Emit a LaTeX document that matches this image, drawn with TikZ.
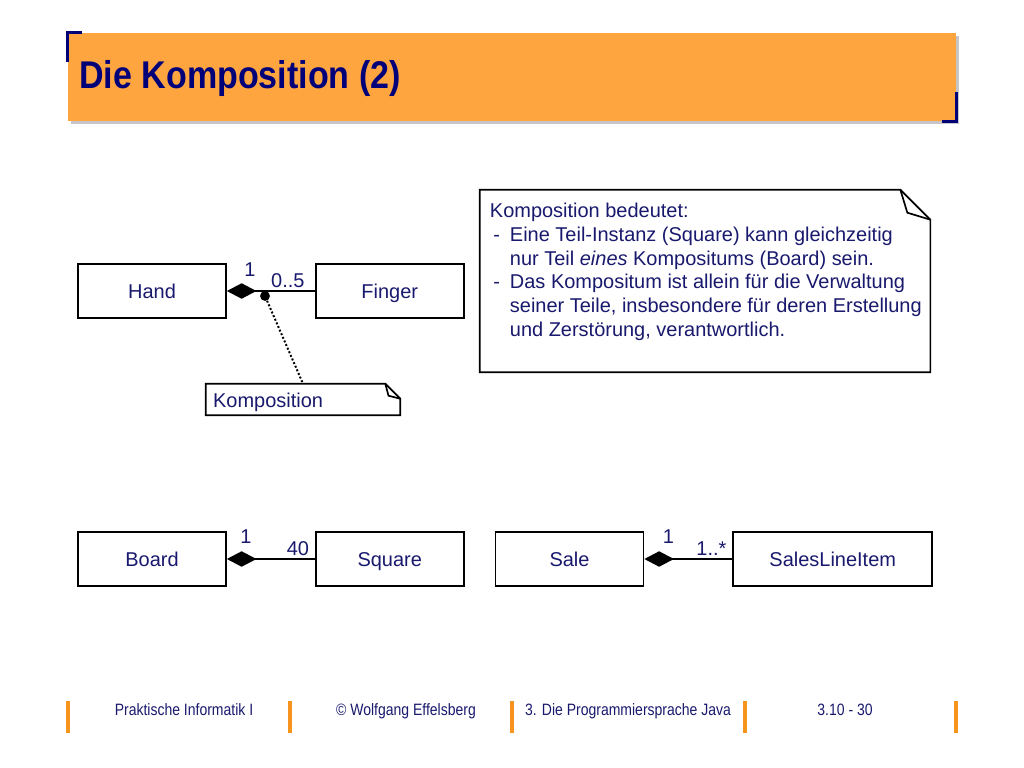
\documentclass[tikz,border=0pt]{standalone}
\usepackage{fontspec}
\setmainfont{Liberation Sans}
\newfontfamily\titlefont[FakeStretch=0.88]{Liberation Sans Bold}
\newfontfamily\footfont[FakeStretch=0.85]{Liberation Sans}
\usepackage{xcolor}
\usetikzlibrary{positioning}
\usetikzlibrary{arrows.meta}
\usetikzlibrary{calc}
\usetikzlibrary{shadows}

\definecolor{barorange}{RGB}{255,165,64}
\definecolor{lineorange}{RGB}{247,148,30}
\definecolor{navy}{RGB}{0,0,120}
\definecolor{inkblue}{RGB}{25,25,110}

\begin{document}
\begin{tikzpicture}[
    x=0.025cm, y=-0.025cm,
    box/.style={draw, line width=1.2pt, fill=white, minimum width=3.7cm, minimum height=1.35cm,
        text=inkblue, text height=2.4ex, text depth=0.4ex, font=\fontsize{14.2}{17}\selectfont},
    mult/.style={text=inkblue, inner sep=0pt, text height=1.6ex, text depth=0.2ex, font=\fontsize{14.2}{17}\selectfont},
    comp/.style={{Diamond[length=21pt, width=11pt]}-, line width=1.2pt},
    notebox/.style={line width=1.2pt, fill=white, line join=miter},
    notetext/.style={text=inkblue, align=left, inner sep=0pt, font=\fontsize{14.2}{17}\selectfont},
    footbar/.style={lineorange, line width=2.8pt},
    foot/.style={text=inkblue, text height=1.6ex, text depth=0.4ex, font=\footfont\fontsize{11.7}{13}\selectfont},
    corner/.style={navy, line width=1.8pt}
]
    \useasboundingbox (0,0) rectangle (1024,768);

    % Title bar
    \node[fill=barorange, minimum width=22.2cm, minimum height=2.2cm, inner sep=0pt,
        drop shadow={shadow xshift=2pt, shadow yshift=-2pt, opacity=0.45}] (title) at (512,77) {};
    \node[anchor=west, text=navy, inner sep=0pt, font=\titlefont\fontsize{27.5}{30}\selectfont]
        (titletext) at (79,79) {Die Komposition (2)};
    \draw[corner] ([yshift=-0.72cm]title.north west) -- (title.north west) -- ([xshift=0.35cm]title.north west);
    \draw[corner] ([yshift=0.72cm]title.south east) -- (title.south east) -- ([xshift=-0.35cm]title.south east);

    % Hand / Finger
    \node[box] (Hand) at (152,291) {Hand};
    \node[box, right=2.2cm of Hand] (Finger) {Finger};
    \draw[comp] (Hand) -- (Finger);
    \node[mult] (HandOne) at ([shift={(0.575cm,0.5cm)}]Hand.east) {1};
    \node[mult] (FingerMult) at ([shift={(-0.675cm,0.22cm)}]Finger.west) {0..5};

    % Note "Komposition"
    \node[circle, fill, inner sep=0pt, minimum size=7pt] (kdot) at (265,296) {};
    \node[minimum width=4.85cm, minimum height=0.775cm, inner sep=0pt] (knote) at (303,399.5) {};
    \draw[notebox] (knote.north west) -- ([xshift=-0.375cm]knote.north east)
        -- ([yshift=-0.375cm]knote.north east) -- (knote.south east) -- (knote.south west) -- cycle;
    \draw[notebox, fill=none] ([xshift=-0.375cm]knote.north east) -- ++(0.08cm,-0.3cm)
        -- ([yshift=-0.375cm]knote.north east);
    \node[notetext, anchor=west] (knotetext) at ([shift={(0.18cm,-0.07cm)}]knote.west) {Komposition};
    \draw[line width=1.4pt, dash pattern=on 1.4pt off 1.4pt] (kdot) -- (knote.north);

    % Big note
    \node[minimum width=11.25cm, minimum height=4.55cm, inner sep=0pt] (bignote) at (705,281) {};
    \draw[notebox] (bignote.north west) -- ([xshift=-0.75cm]bignote.north east)
        -- ([yshift=-0.75cm]bignote.north east) -- (bignote.south east) -- (bignote.south west) -- cycle;
    \draw[notebox, fill=none] ([xshift=-0.75cm]bignote.north east) -- ++(0.175cm,-0.575cm)
        -- ([yshift=-0.75cm]bignote.north east);
    \node[notetext, anchor=north west] (bignotetext) at ([shift={(0.25cm,-0.32cm)}]bignote.north west) {%
        Komposition bedeutet:\\
        \makebox[0.5cm][l]{\,-}Eine Teil-Instanz (Square) kann gleichzeitig\\
        \hspace*{0.5cm}nur Teil \emph{eines} Kompositums (Board) sein.\\
        \makebox[0.5cm][l]{\,-}Das Kompositum ist allein f\"ur die Verwaltung\\
        \hspace*{0.5cm}seiner Teile, insbesondere f\"ur deren Erstellung\\
        \hspace*{0.5cm}und Zerst\"orung, verantwortlich.};

    % Board / Square
    \node[box] (Board) at (152,559) {Board};
    \node[box, right=2.2cm of Board] (Square) {Square};
    \draw[comp] (Board) -- (Square);
    \node[mult] (BoardOne) at ([shift={(0.475cm,0.52cm)}]Board.east) {1};
    \node[mult] (SquareMult) at ([shift={(-0.425cm,0.22cm)}]Square.west) {40};

    % Sale / SalesLineItem
    \node[box] (Sale) at (569.5,559) {Sale};
    \node[box, minimum width=4.975cm, right=2.2cm of Sale] (SalesLineItem) {SalesLineItem};
    \draw[comp] (Sale) -- (SalesLineItem);
    \node[mult] (SaleOne) at ([shift={(0.6cm,0.52cm)}]Sale.east) {1};
    \node[mult] (SalesMult) at ([shift={(-0.525cm,0.22cm)}]SalesLineItem.west) {1..*};

    % Footer
    \foreach \x in {68,290,512,745,956}
        \draw[footbar] (\x,701) -- (\x,733);
    \node[foot] (f1) at (184,711) {Praktische Informatik I};
    \node[foot] (f2) at (406,711) {\textcopyright\ Wolfgang Effelsberg};
    \node[foot] (f3) at (628,711) {3. Die Programmiersprache Java};
    \node[foot] (f4) at (845,711) {3.10 - 30};
\end{tikzpicture}
\end{document}
